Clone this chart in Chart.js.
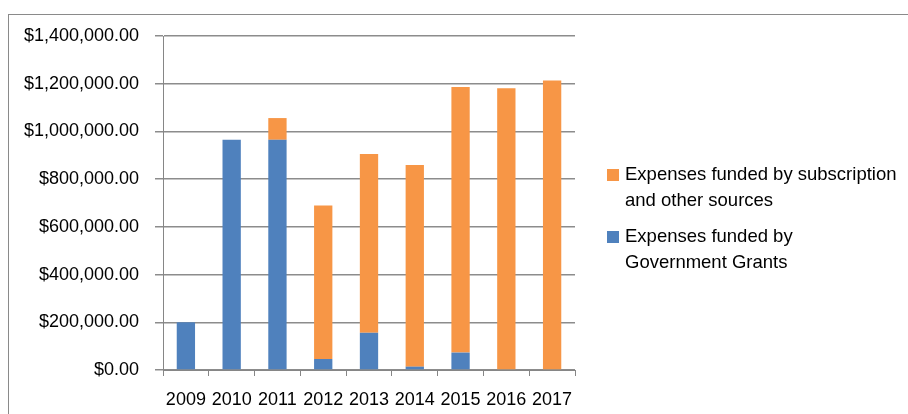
<!DOCTYPE html>
<html>
<head>
<meta charset="utf-8">
<script src="https://cdn.jsdelivr.net/npm/chart.js@4.4.0/dist/chart.umd.min.js"></script>
<style>
  html, body { margin: 0; padding: 0; background: #fff; }
  #wrap { position: relative; width: 908px; height: 414px; overflow: hidden; }
  #frame { position: absolute; left: 8px; top: 14px; right: -2px; bottom: -2px; border-top: 1px solid #8a8a8a; border-left: 1px solid #8a8a8a; }
  canvas { position: absolute; left: 0; top: 0; }
</style>
</head>
<body>
<div id="wrap">
  <div id="frame"></div>
  <canvas id="myChart" width="908" height="414"></canvas>
</div>
<script>
const years = ["2009", "2010", "2011", "2012", "2013", "2014", "2015", "2016", "2017"];
const grants = [200000, 965000, 965000, 46000, 156000, 14000, 73000, 0, 0];
const subscription = [0, 0, 91000, 643000, 749000, 845000, 1113000, 1181000, 1213000];
const yTicks = [0, 200000, 400000, 600000, 800000, 1000000, 1200000, 1400000];

const blue = "#4F81BD";
const orange = "#F79646";
const font = "Liberation Sans";

const money = (v) =>
  "$" + v.toLocaleString("en-US", { minimumFractionDigits: 2, maximumFractionDigits: 2 });

// legend drawn on the right, orange first like the original
const sideLegend = {
  id: "sideLegend",
  afterDraw(chart) {
    const c = chart.ctx;
    const items = [chart.data.datasets[1], chart.data.datasets[0]];
    let y = 175;
    c.save();
    c.font = "18.5px '" + font + "'";
    c.textBaseline = "middle";
    c.fillStyle = "#000";
    items.forEach((ds) => {
      c.fillStyle = ds.backgroundColor;
      c.fillRect(607, y - 6, 12, 12);
      c.fillStyle = "#000";
      ds.label.split("\n").forEach((line, i) => {
        c.fillText(line, 625, y + i * 26);
      });
      y += 62;
    });
    c.restore();
  },
};

const ctx = document.getElementById("myChart");

new Chart(ctx, {
  type: "bar",
  data: {
    labels: years,
    datasets: [
      {
        label: "Expenses funded by\nGovernment Grants",
        data: grants,
        backgroundColor: blue,
        barPercentage: 0.4,
        categoryPercentage: 1,
      },
      {
        label: "Expenses funded by subscription\nand other sources",
        data: subscription,
        backgroundColor: orange,
        barPercentage: 0.4,
        categoryPercentage: 1,
      },
    ],
  },
  options: {
    responsive: false,
    animation: false,
    layout: { padding: { left: 0, top: 36, right: 333, bottom: 0 } },
    plugins: {
      legend: { display: false },
      tooltip: { enabled: false },
    },
    scales: {
      x: {
        stacked: true,
        afterFit: (scale) => { scale.height = 44; },
        border: { color: "#868686", width: 1 },
        grid: { offset: true, drawOnChartArea: false, drawTicks: true, tickLength: 6, color: "#868686" },
        ticks: {
          color: "#000",
          padding: 13,
          maxRotation: 0,
          minRotation: 0,
          autoSkip: false,
          font: { family: font, size: 18 },
        },
      },
      y: {
        stacked: true,
        min: 0,
        max: 1400000,
        afterFit: (scale) => { scale.width = 163; },
        afterBuildTicks: (scale) => { scale.ticks = yTicks.map((v) => ({ value: v })); },
        border: { color: "#868686", width: 1 },
        grid: { color: "#8c8c8c", lineWidth: 1.5, drawTicks: true, tickLength: 8 },
        ticks: {
          color: "#000",
          padding: 16,
          font: { family: font, size: 18 },
          callback: (v) => money(v),
        },
      },
    },
  },
  plugins: [sideLegend],
});
</script>
</body>
</html>
